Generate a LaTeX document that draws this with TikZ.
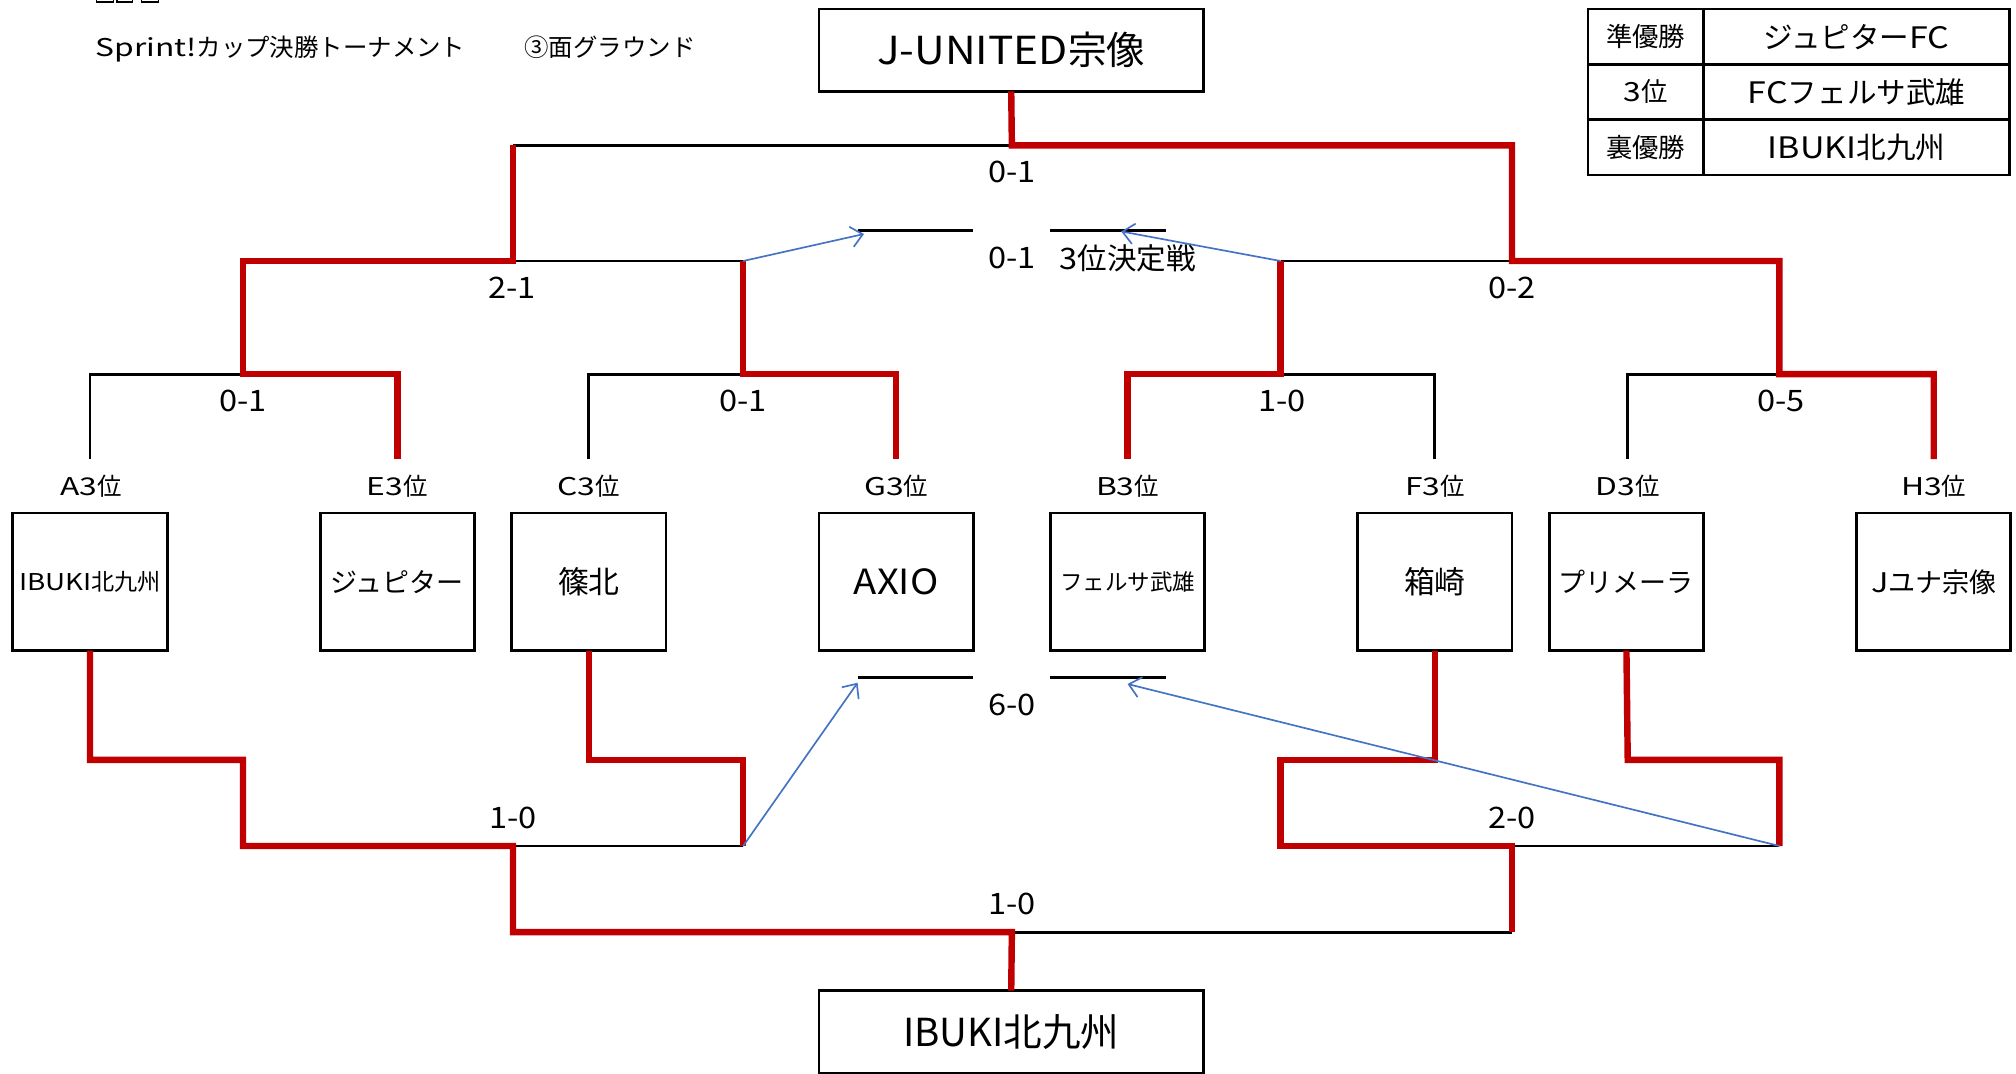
\documentclass[tikz,border=0pt]{standalone}
\usepackage{fontspec}
\setmainfont{Noto Sans CJK JP}
\usetikzlibrary{arrows.meta}
\definecolor{winred}{RGB}{192,0,0}
\definecolor{arrblue}{RGB}{68,114,196}
\newcommand{\fs}[1]{\fontsize{#1}{#1}\selectfont}
\newcommand{\lat}[2][1.2]{{\addfontfeature{FakeStretch=#1}#2}}
\begin{document}
\begin{tikzpicture}[x=1pt,y=-1pt,
  bl/.style={line width=2.2pt,black},
  rd/.style={line width=5pt,winred},
  ar/.style={line width=1.3pt,arrblue,-{Straight Barb[length=9pt,width=16pt]}},
  team/.style={draw,line width=2.2pt,inner sep=0pt,outer sep=0pt,minimum width=120pt,minimum height=107pt},
  bigbox/.style={draw,line width=2.2pt,inner sep=0pt,outer sep=0pt,minimum width=299pt,minimum height=64pt,font=\fs{30}},
  score/.style={inner sep=0pt,font=\fs{23}},
  seed/.style={inner sep=0pt,font=\fs{19}},
  cellL/.style={draw,line width=2pt,inner sep=0pt,minimum width=90pt,minimum height=43pt,font=\fs{20.5}},
  cellR/.style={draw,line width=2pt,inner sep=0pt,minimum width=238pt,minimum height=43pt,font=\fs{23}}
]
\useasboundingbox (0,0) rectangle (1568,835);
\fill[white] (0,0) rectangle (1568,835);

% cut-off fragments at top-left
\draw[line width=1pt] (75,-8) rectangle (88,1.5);
\draw[line width=1pt] (91,-8) rectangle (103,1.5);
\draw[line width=1pt] (110,-8) rectangle (123,1.5);

% title
\node[anchor=west,inner sep=0pt,font=\fs{19}] (title) at (74,38) {\lat[1.3]{Sprint!}カップ決勝トーナメント\hspace{46pt}③面グラウンド};

% champion and bottom winner
\node[bigbox] (champ) at (786.5,39) {\lat[1.1]{J-UNITED}宗像};
\node[bigbox] (urawin) at (786.5,802.5) {IBUKI北九州};

% result table
\node[cellL] (c11) at (1280,28.5) {準優勝};
\node[cellR] (c12) at (1444,28.5) {ジュピター\lat[1.15]{FC}};
\node[cellL] (c21) at (1280,71.5) {\lat[1.2]{3}位};
\node[cellR] (c22) at (1444,71.5) {\lat[1.15]{FC}フェルサ武雄};
\node[cellL] (c31) at (1280,114.5) {裏優勝};
\node[cellR] (c32) at (1444,114.5) {\lat[1.15]{IBUKI}北九州};

% teams
\node[team,font=\fs{18}] (tA) at (70,452.5) {\lat[1.2]{IBUKI}北九州};
\node[team,font=\fs{21}] (tE) at (309,452.5) {ジュピター};
\node[team,font=\fs{24}] (tC) at (458,452.5) {篠北};
\node[team,font=\fs{27}] (tG) at (697,452.5) {\lat[1.1]{AXIO}};
\node[team,font=\fs{17.5}] (tB) at (877,452.5) {フェルサ武雄};
\node[team,font=\fs{24}] (tF) at (1116,452.5) {箱崎};
\node[team,font=\fs{21}] (tD) at (1265,452.5) {プリメーラ};
\node[team,font=\fs{21}] (tH) at (1504,452.5) {\lat[1.2]{J}ユナ宗像};

% seed labels
\node[seed] (sA) at (71,378) {\lat[1.3]{A3}位};
\node[seed] (sE) at (309,378) {\lat[1.3]{E3}位};
\node[seed] (sC) at (458,378) {\lat[1.3]{C3}位};
\node[seed] (sG) at (697,378) {\lat[1.3]{G3}位};
\node[seed] (sB) at (877,378) {\lat[1.3]{B3}位};
\node[seed] (sF) at (1116,378) {\lat[1.3]{F3}位};
\node[seed] (sD) at (1266,378) {\lat[1.3]{D3}位};
\node[seed] (sH) at (1504,378) {\lat[1.3]{H3}位};

% score labels
\node[score] (mFin) at (787,134) {\lat[1.1]{0-1}};
\node[score] (m3rd) at (787,201) {\lat[1.1]{0-1}};
\node[score] (l3rd) at (877,201) {\lat[1.1]{3}位決定戦};
\node[score] (mSL) at (398,224) {\lat[1.1]{2-1}};
\node[score] (mSR) at (1176,224) {\lat[1.1]{0-2}};
\node[score] (mAE) at (189,312) {\lat[1.1]{0-1}};
\node[score] (mCG) at (578,312) {\lat[1.1]{0-1}};
\node[score] (mBF) at (997,312) {\lat[1.1]{1-0}};
\node[score] (mDH) at (1385,312) {\lat[1.1]{0-5}};
\node[score] (mB3) at (787,548) {\lat[1.1]{6-0}};
\node[score] (mBL) at (399,636) {\lat[1.1]{1-0}};
\node[score] (mBR) at (1176,636) {\lat[1.1]{2-0}};
\node[score] (mBF2) at (787,703) {\lat[1.1]{1-0}};

% coordinates
\coordinate (pA) at (70,357);
\coordinate (pE) at (309,357);
\coordinate (pC) at (458,357);
\coordinate (pG) at (697,357);
\coordinate (pB) at (877,357);
\coordinate (pF) at (1116,357);
\coordinate (pD) at (1266,357);
\coordinate (pH) at (1504,357);
\coordinate (jSL) at (578,203);
\coordinate (jSR) at (996,203);
\coordinate (jBL) at (578,658);
\coordinate (jBR) at (1384,658);
% 3rd place segments
\coordinate (t1a) at (667,179); \coordinate (t1b) at (757,179);
\coordinate (t2a) at (817,179); \coordinate (t2b) at (907,179);
\coordinate (b1a) at (667,527); \coordinate (b1b) at (757,527);
\coordinate (b2a) at (817,527); \coordinate (b2b) at (907,527);
\coordinate (t1h) at (672,182);
\coordinate (t2h) at (872,180);
\coordinate (b1h) at (667,531);
\coordinate (b2h) at (877,532);

% black lines
\draw[bl] (pA) -- (70,291) -- (189,291);
\draw[bl] (pC) -- (458,291) -- (578,291);
\draw[bl] (996,291) -- (1116,291) -- (pF);
\draw[bl] (pD) -- (1266,291) -- (1384,291);
\draw[bl] (399,203) -- (jSL);
\draw[bl] (jSR) -- (1176,203);
\draw[bl] (399,113) -- (787,113);
\draw[bl] (t1a) -- (t1b);
\draw[bl] (t2a) -- (t2b);
\draw[bl] (b1a) -- (b1b);
\draw[bl] (b2a) -- (b2b);
\draw[bl] (399,658) -- (jBL);
\draw[bl] (1176,658) -- (jBR);
\draw[bl] (787,725) -- (1176,725);

% red winner paths
\draw[rd] (pE) -- (309,291) -- (189,291) -- (189,203) -- (399,203) -- (399,113);
\draw[rd] (pG) -- (697,291) -- (578,291) -- (jSL);
\draw[rd] (pB) -- (877,291) -- (996,291) -- (jSR);
\draw[rd] (pH) -- (1504,291) -- (1384,291) -- (1384,203) -- (1176,203) -- (1176,113) -- (787,113) -- (champ.south);
\draw[rd] (tA.south) -- (70,591) -- (189,591) -- (189,658) -- (399,658) -- (399,725) -- (787,725) -- (urawin.north);
\draw[rd] (tC.south) -- (458,591) -- (578,591) -- (jBL);
\draw[rd] (tF.south) -- (1116,591) -- (996,591) -- (996,658) -- (1176,658) -- (1176,725);
\draw[rd] (tD.south) -- (1266,591) -- (1384,591) -- (jBR);

% blue arrows
\draw[ar] (jSL) -- (t1h);
\draw[ar] (jSR) -- (t2h);
\draw[ar] (jBL) -- (b1h);
\draw[ar] (jBR) -- (b2h);
\end{tikzpicture}
\end{document}
